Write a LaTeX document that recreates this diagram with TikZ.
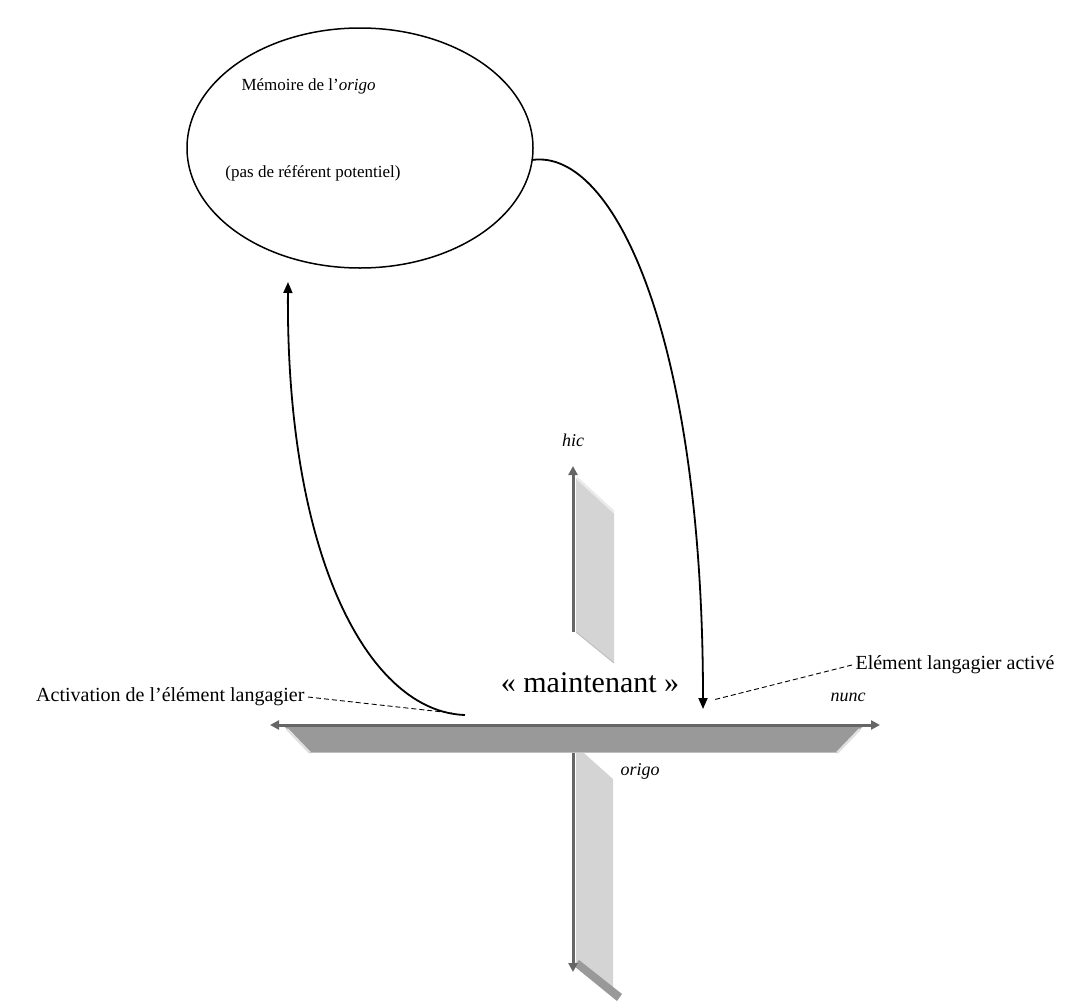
\documentclass[tikz,border=0pt]{standalone}
\usepackage{fontspec}
\setmainfont{Liberation Serif}
\usetikzlibrary{arrows.meta}

\tikzset{
  curve/.style={line width=1.8pt,-{Triangle[length=11pt,width=9pt]}},
  leader/.style={dashed,line width=0.9pt,dash pattern=on 5pt off 3pt},
  axisline/.style={line width=3pt,draw=black!60,{Triangle[length=9pt,width=9pt]}-{Triangle[length=9pt,width=9pt]}},
  halfaxis/.style={line width=3pt,draw=black!60,-{Triangle[length=9pt,width=9pt]}},
  face/.style={fill=black!17},
  label/.style={font=\fontsize{20}{22}\selectfont},
  axislabel/.style={font=\itshape\fontsize{18}{20}\selectfont}
}

\begin{document}
\begin{tikzpicture}[x=1pt,y=-1pt]
    \useasboundingbox (0,0) rectangle (1075,1001);
    % Memory of the origo
    \draw[line width=1.5pt] (360,148) ellipse (173 and 120);
    \node[font=\fontsize{17}{19}\selectfont,anchor=west] (memo) at (238,86) {Mémoire de l’\textit{origo}};
    \node[font=\fontsize{17}{19}\selectfont] (ref) at (313,173) {(pas de référent potentiel)};
    \coordinate (ellR) at (532,160);
    \coordinate (ellB) at (288,282);
    % origo: vertical part below the axis
    \fill[face] (576,746) -- (613,779) -- (613,995) -- (576,962) -- cycle;
    \fill[black!40] (574,966) -- (579,960) -- (622,994) -- (617,1001) -- cycle;
    \coordinate (downA) at (573,752);
    \coordinate (downB) at (573,972);
    \draw[halfaxis] (downA) -- (downB);
    % hic: vertical part above the axis
    \fill[face] (576,478) -- (614,513) -- (614,663) -- (576,632) -- cycle;
    \draw[black!8,line width=2.5pt] (577,478) -- (614,512);
    \draw[black!25,line width=1pt] (576,632) -- (614,663);
    \coordinate (upA) at (573,632);
    \coordinate (upB) at (573,466);
    \draw[halfaxis] (upA) -- (upB);
    % nunc: horizontal axis
    \fill[black!40] (285,727) -- (862,727) -- (837,752) -- (310,752) -- cycle;
    \draw[black!12,line width=2.5pt] (287,729) -- (310,753);
    \draw[black!12,line width=2.5pt] (860,729) -- (837,753);
    \draw[black!25,line width=1pt] (310,752) -- (837,752);
    \coordinate (axL) at (270,725);
    \coordinate (axR) at (880,725);
    \draw[axisline] (axL) -- (axR);
    % Labels of the three axes
    \node[axislabel] (hic) at (573,440) {hic};
    \node[axislabel] (nunc) at (848,697) {nunc};
    \node[axislabel] (origo) at (640,771) {origo};
    \node[font=\fontsize{30}{34}\selectfont] (now) at (590,683) {« maintenant »};
    % Activation and return
    \coordinate (actS) at (465,715);
    \coordinate (actT) at (703,709);
    \draw[curve] (actS) .. controls (370,712) and (286,560) .. (ellB);
    \draw[curve] (ellR) .. controls (615,148) and (703,340) .. (actT);
    % Side labels
    \node[label,anchor=east] (activ) at (308,697) {Activation de l’élément langagier};
    \node[label,anchor=west] (elem) at (852,665) {Elément langagier activé};
    \coordinate (activP) at (452,713);
    \coordinate (elemP) at (713,700);
    \draw[leader] (activ.east) -- (activP);
    \draw[leader] (elem.west) -- (elemP);
\end{tikzpicture}
\end{document}
